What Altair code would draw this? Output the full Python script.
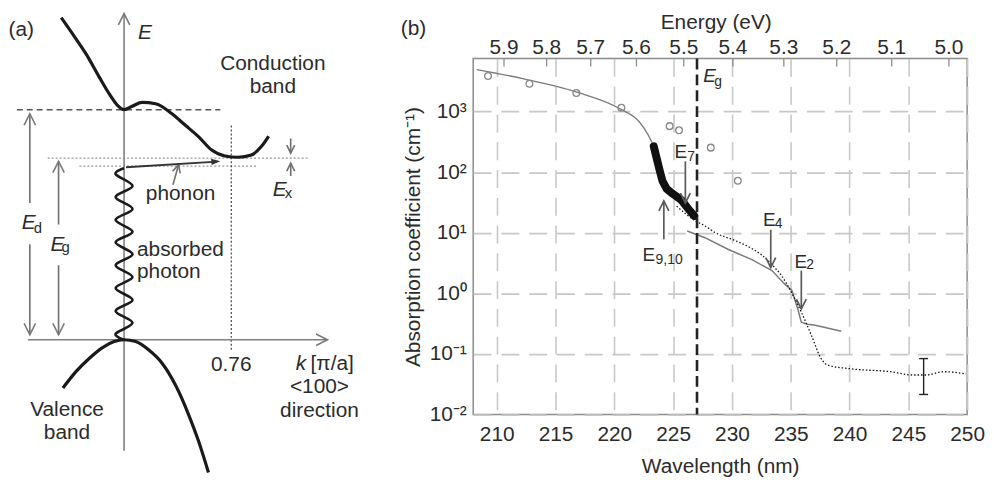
import altair as alt
import pandas as pd

FONT = "Liberation Sans"
TXT = "#2b2b2b"
CHEVRON = "M -0.5 1 L 0 0 L 0.5 1"
TRIANGLE = "M 0 0 L -0.35 1 L 0.35 1 Z"

# ======================= Panel (b) data =======================
wl_ticks = [210, 215, 220, 225, 230, 235, 240, 245, 250]
alpha_ticks = [0.01, 0.1, 1, 10, 100, 1000]
alpha_tick_labels = ["10⁻²", "10⁻¹", "10⁰", "10¹", "10²", "10³"]
energy_ticks = [5.9, 5.8, 5.7, 5.6, 5.5, 5.4, 5.3, 5.2, 5.1, 5.0]
energy_shift_nm = 0.45  # printed energy scale sits ~0.45 nm right of 1240/E

fit_wl = [208.3, 212.3, 216.8, 220.6, 222.1, 222.9, 223.35]
fit_alpha = [4930, 3475, 2100, 1080, 686, 404, 267]

circle_wl = [209.26, 212.78, 216.77, 220.6, 224.7, 225.5, 228.2, 230.5]
circle_alpha = [3850, 2880, 2020, 1160, 575, 490, 254, 72]

meas_wl = [223.35, 223.6, 223.85, 224.1, 224.45, 225.0, 225.7, 226.3, 226.8]
meas_alpha = [267, 170, 108, 71, 53, 43.5, 34.8, 24.7, 19.0]

dotted_wl = [225.3, 226.9, 227.7, 228.6, 230.3, 231.4, 232.5, 233.4, 234.2, 234.6,
             235.15, 235.9, 236.75, 237.6, 238.1, 240.1, 243.5, 245.4, 246.5, 248.0, 249.9]
dotted_alpha = [27.5, 15.7, 13.0, 10.0, 7.4, 5.9, 4.35, 2.99, 1.97, 1.51,
                0.96, 0.49, 0.205, 0.083, 0.066, 0.057, 0.051, 0.045, 0.045, 0.051, 0.047]

lower_wl = [226.2, 227.7, 229.7, 231.7, 233.4, 234.5, 235.1, 235.6, 235.9, 236.4, 237.0, 239.3]
lower_alpha = [10.7, 8.3, 5.3, 3.6, 2.38, 1.42, 1.12, 0.553, 0.335, 0.31, 0.30, 0.238]

eg_wl = [227.03]
errbar_wl = [246.3]
errbar_lo = [0.0215]
errbar_hi = [0.084]

# annotation arrows (b)
arrow_wl = [226.04, 224.21, 233.3, 235.9]
arrow_from = [151, 7.8, 11.2, 2.38]
arrow_to = [31.0, 33.5, 2.67, 0.553]
# annotation labels (b)
ann_main_wl = [225.12, 222.39, 232.65, 235.32]
ann_main_a = [170, 3.47, 13.0, 2.67]
ann_sub_text = ["7", "9,10", "4", "2"]
ann_sub_wl = [226.21, 223.51, 233.63, 236.31]
ann_sub_a = [151, 3.10, 12.1, 2.50]

# ======================= Panel (a) data =======================
cb_k = [-0.446, -0.364, -0.27, -0.176, -0.106, -0.047, 0.0, 0.058, 0.129, 0.223,
        0.340, 0.435, 0.528, 0.622, 0.716, 0.810, 0.904, 0.974, 1.026]
cb_E = [10.29, 9.76, 9.13, 8.39, 7.86, 7.49, 7.35, 7.46, 7.58, 7.54,
        7.22, 6.85, 6.49, 6.06, 5.87, 5.83, 5.90, 6.17, 6.50]

vb_k = [-0.434, -0.340, -0.246, -0.153, -0.070, 0.0, 0.082, 0.176, 0.270, 0.364, 0.458, 0.528, 0.599]
vb_E = [-1.54, -1.01, -0.59, -0.25, -0.06, 0.0, -0.06, -0.33, -0.75, -1.44, -2.39, -3.23, -4.24]

photon_k = [0, -0.06, 0.06, -0.06, 0.06, -0.06, 0.06, -0.06, 0.06, -0.06, 0.06, -0.06, 0.06, -0.06, 0.06, -0.06, 0]
photon_E = [5.48, 5.29, 4.91, 4.56, 4.18, 3.83, 3.45, 3.11, 2.73, 2.38, 2.00, 1.65, 1.27, 0.92, 0.54, 0.19, 0.0]

E_d = 7.35
E_min_cb = 5.80
E_phonon_start = 5.545
k_x = 0.761

# ======================= Panel (b) chart =======================
XS = alt.Scale(domain=[208, 250], nice=False, zero=False)
YS = alt.Scale(type="log", domain=[0.01, 7500], nice=False)

grid_kw = dict(grid=True, gridDash=[18, 10], gridColor="#c8c8c8", gridWidth=1.6)
lab_kw = dict(labelFont=FONT, labelFontSize=21, labelColor=TXT,
              titleFont=FONT, titleFontSize=21, titleFontWeight="normal", titleColor=TXT)

x_bottom = alt.Axis(orient="bottom", values=wl_ticks, ticks=False, domain=False, labelPadding=9,
                    labelFlush=False, title="Wavelength (nm)", titlePadding=11, **grid_kw, **lab_kw)
labels_js = "[" + ",".join("'%s'" % s for s in alpha_tick_labels) + "]"
y_left = alt.Axis(orient="left", values=alpha_ticks,
                  labelExpr=labels_js + "[round(log(datum.value)/LN10)+2]",
                  ticks=False, domain=False, labelPadding=7, labelOverlap=False,
                  title="Absorption coefficient (cm⁻¹)", titlePadding=6, **grid_kw, **lab_kw)
top_vals = [1240.0 / e + energy_shift_nm for e in energy_ticks]
top_labels = ["%.1f" % e for e in energy_ticks]


def xb(field="wl", axis=None):
    return alt.X(field, type="quantitative", scale=XS, axis=axis)


def yb(field="a", axis=None):
    return alt.Y(field, type="quantitative", scale=YS, axis=axis)


df_fit = pd.DataFrame({"wl": fit_wl, "a": fit_alpha})
df_circ = pd.DataFrame({"wl": circle_wl, "a": circle_alpha})
df_meas = pd.DataFrame({"wl": meas_wl, "a": meas_alpha})
df_dot = pd.DataFrame({"wl": dotted_wl, "a": dotted_alpha})
df_low = pd.DataFrame({"wl": lower_wl, "a": lower_alpha})
df_eg = pd.DataFrame({"wl": eg_wl})
df_err = pd.DataFrame({"wl": errbar_wl, "lo": errbar_lo, "hi": errbar_hi})
df_arr = pd.DataFrame({"wl": arrow_wl, "a1": arrow_from, "a2": arrow_to,
                       "ang": [180 if t < f else 0 for f, t in zip(arrow_from, arrow_to)]})
df_main = pd.DataFrame({"wl": ann_main_wl, "a": ann_main_a, "t": ["E"] * len(ann_main_wl)})
df_sub = pd.DataFrame({"wl": ann_sub_wl, "a": ann_sub_a, "t": ann_sub_text})
df_top = pd.DataFrame({"wl": top_vals, "t": top_labels})

l_fit = alt.Chart(df_fit).mark_line(color="#7a7a7a", strokeWidth=1.3, interpolate="monotone").encode(
    x=xb(axis=x_bottom), y=yb(axis=y_left))
l_circ = alt.Chart(df_circ).mark_point(shape="circle", filled=False, size=46, color="#8a8a8a",
                                       strokeWidth=1.3, opacity=1).encode(x=xb(), y=yb())
l_meas = alt.Chart(df_meas).mark_line(color="#111111", strokeWidth=8, strokeCap="round",
                                      strokeJoin="round").encode(x=xb(), y=yb())
l_dot = alt.Chart(df_dot).mark_line(color="#111111", strokeWidth=1.3, strokeDash=[1.5, 2],
                                    interpolate="monotone").encode(x=xb(), y=yb())
l_low = alt.Chart(df_low).mark_line(color="#7a7a7a", strokeWidth=1.5).encode(x=xb(), y=yb())
l_eg = alt.Chart(df_eg).mark_rule(color="#222222", strokeWidth=2.6, strokeDash=[11, 5]).encode(x=xb())
l_err = alt.Chart(df_err).mark_rule(color="#222222", strokeWidth=1.4).encode(
    x=xb(), y=yb("lo"), y2="hi")
l_err_lo = alt.Chart(df_err).mark_tick(orient="horizontal", color="#222222", size=9, thickness=1.4,
                                       opacity=1).encode(x=xb(), y=yb("lo"))
l_err_hi = alt.Chart(df_err).mark_tick(orient="horizontal", color="#222222", size=9, thickness=1.4,
                                       opacity=1).encode(x=xb(), y=yb("hi"))
l_arr = alt.Chart(df_arr).mark_rule(color="#5a5a5a", strokeWidth=1.7).encode(
    x=xb(), y=yb("a1"), y2="a2")
l_head = alt.Chart(df_arr).mark_point(shape=CHEVRON, filled=False, size=400, color="#5a5a5a",
                                      strokeWidth=1.7, opacity=1).encode(
    x=xb(), y=yb("a2"), angle=alt.Angle("ang:Q", scale=None))
l_main = alt.Chart(df_main).mark_text(font=FONT, fontSize=19, color=TXT, align="left",
                                      baseline="alphabetic").encode(x=xb(), y=yb(), text="t:N")
l_sub = alt.Chart(df_sub).mark_text(font=FONT, fontSize=14, color=TXT, align="left",
                                    baseline="alphabetic").encode(x=xb(), y=yb(), text="t:N")
l_egE = alt.Chart(pd.DataFrame({"wl": [227.56], "a": [3100], "t": ["E"]})).mark_text(
    font=FONT, fontSize=19, fontStyle="italic", color=TXT, align="left", baseline="alphabetic").encode(
    x=xb(), y=yb(), text="t:N")
l_egg = alt.Chart(pd.DataFrame({"wl": [228.49], "a": [2670], "t": ["g"]})).mark_text(
    font=FONT, fontSize=14, color=TXT, align="left", baseline="alphabetic").encode(
    x=xb(), y=yb(), text="t:N")
# top (energy) axis: inward ticks + labels + title
l_top = alt.Chart(df_top).mark_rule(color="#8c8c8c", strokeWidth=1.3).encode(
    x=xb(), y=alt.value(0), y2=alt.value(8))
l_toplab = alt.Chart(df_top).mark_text(font=FONT, fontSize=21, color=TXT, align="center",
                                       baseline="alphabetic").encode(
    x=xb(), y=alt.value(-4.5), text="t:N")
l_toptitle = alt.Chart(pd.DataFrame({"t": ["Energy (eV)"]})).mark_text(
    font=FONT, fontSize=21, color=TXT, align="center", baseline="alphabetic").encode(
    text="t:N", x=alt.value(245), y=alt.value(-30))
l_tagb = alt.Chart(pd.DataFrame({"t": ["(b)"]})).mark_text(
    font=FONT, fontSize=21, color=TXT, align="left", baseline="alphabetic").encode(
    text="t:N", x=alt.value(-73), y=alt.value(-24))

panel_b = alt.layer(
    l_fit, l_circ, l_low, l_dot, l_meas, l_eg, l_err, l_err_lo, l_err_hi,
    l_arr, l_head, l_main, l_sub, l_egE, l_egg, l_top, l_toplab, l_toptitle, l_tagb
).resolve_axis(x="independent", y="independent").properties(
    width=498, height=359, view=alt.ViewBackground(stroke="#8c8c8c", strokeWidth=1.5))

# ======================= Panel (a) chart =======================
# plot area of (a) is aligned with the plot area of (b); content extends beyond it
XA = alt.Scale(domain=[-0.824, 1.711], nice=False, zero=False)
YA = alt.Scale(domain=[-2.392, 8.983], nice=False, zero=False)


def xa(field="k"):
    return alt.X(field, type="quantitative", scale=XA, axis=None)


def ya(field="E"):
    return alt.Y(field, type="quantitative", scale=YA, axis=None)


def seg_chart(rows, **mk):
    df = pd.DataFrame(rows, columns=["k1", "E1", "k2", "E2"])
    return alt.Chart(df).mark_rule(**mk).encode(x=xa("k1"), y=ya("E1"), x2="k2", y2="E2")


def head_chart(rows, shape, size, filled, color, sw=1.6):
    df = pd.DataFrame(rows, columns=["k", "E", "ang"])
    return alt.Chart(df).mark_point(shape=shape, size=size, filled=filled, color=color,
                                    strokeWidth=sw, opacity=1).encode(
        x=xa(), y=ya(), angle=alt.Angle("ang:Q", scale=None))


def text_chart(rows, size=21, style="normal", align="left"):
    df = pd.DataFrame(rows, columns=["t", "k", "E"])
    return alt.Chart(df).mark_text(font=FONT, fontSize=size, fontStyle=style, color=TXT,
                                   align=align, baseline="alphabetic").encode(
        x=xa(), y=ya(), text="t:N")


a_axes = seg_chart([(0, -3.55, 0, 10.42), (-0.683, 0, 1.444, 0)], color="#808080", strokeWidth=1.6)
a_arrows = seg_chart([(-0.669, 7.22, -0.669, 4.37), (-0.669, 3.05, -0.669, 0.158),
                      (-0.465, 5.70, -0.465, 3.68), (-0.465, 2.38, -0.465, 0.158),
                      (1.183, 6.43, 1.183, 5.96), (1.183, 5.23, 1.183, 5.64),
                      (0.347, 4.95, 0.387, 5.59)], color="#6e6e6e", strokeWidth=1.6)
a_dash = seg_chart([(-0.761, E_d, 0.683, E_d)], color="#555555", strokeWidth=1.5, strokeDash=[6, 4])
a_dotg = seg_chart([(-0.542, E_min_cb, 1.303, E_min_cb), (-0.317, E_phonon_start, 0.937, E_phonon_start)],
                   color="#9a9a9a", strokeWidth=1.4, strokeDash=[2, 2])
a_dotv = seg_chart([(k_x, 6.84, k_x, -0.38)], color="#333333", strokeWidth=1.1, strokeDash=[2, 2])
a_trans = seg_chart([(0.014, 5.51, 0.66, 5.69)], color="#333333", strokeWidth=1.8)

a_heads_big = head_chart([(0, 10.42, 0), (1.444, 0, 90), (-0.669, 7.22, 0), (-0.669, 0.158, 180),
                          (-0.465, 5.70, 0), (-0.465, 0.158, 180)], CHEVRON, 529, False, "#7a7a7a")
a_heads_small = head_chart([(1.183, 5.96, 180), (1.183, 5.64, 0), (0.387, 5.59, 16)],
                           CHEVRON, 256, False, "#6e6e6e")
a_head_fill = head_chart([(0.683, 5.70, 86.4)], TRIANGLE, 324, True, "#333333", sw=0)

a_cb = alt.Chart(pd.DataFrame({"k": cb_k, "E": cb_E})).mark_line(
    color="#1a1a1a", strokeWidth=3.2, interpolate="monotone").encode(x=xa(), y=ya())
a_vb = alt.Chart(pd.DataFrame({"k": vb_k, "E": vb_E})).mark_line(
    color="#1a1a1a", strokeWidth=3.2, interpolate="monotone").encode(x=xa(), y=ya())
a_wave = alt.Chart(pd.DataFrame({"k": photon_k, "E": photon_E, "i": list(range(len(photon_k)))})).mark_line(
    color="#1a1a1a", strokeWidth=2.6, interpolate="cardinal").encode(x=xa(), y=ya(), order="i:Q")

a_txt_c = text_chart([("Conduction", 1.056, 8.62), ("band", 1.056, 7.89), ("phonon", 0.401, 4.47),
                      ("Valence", -0.405, -2.44), ("band", -0.405, -3.17), ("0.76", 0.761, -1.01),
                      ("<100>", 1.387, -1.71), ("direction", 1.387, -2.47)], align="center")
a_txt_l = text_chart([("(a)", -0.82, 9.70), ("absorbed", 0.092, 2.66), ("photon", 0.092, 1.96),
                      ("[π/a]", 1.324, -0.98)])
a_txt_i = text_chart([("E", 0.099, 9.60), ("E", -0.727, 3.53), ("E", -0.523, 2.85), ("E", 1.056, 4.59),
                      ("k", 1.218, -0.98)], style="italic")
a_txt_s = text_chart([("d", -0.641, 3.42), ("g", -0.444, 2.79), ("x", 1.141, 4.53)], size=15)

panel_a = alt.layer(
    a_dotg, a_dash, a_dotv, a_axes, a_arrows, a_heads_big, a_heads_small,
    a_cb, a_vb, a_wave, a_trans, a_head_fill, a_txt_c, a_txt_l, a_txt_i, a_txt_s
).properties(width=360, height=359)

chart = alt.hconcat(panel_a, panel_b, spacing=35).properties(
    padding={"left": 0, "top": 0, "right": 0, "bottom": 0}
).configure(font=FONT).configure_view(stroke=None)

chart.save("out.html", embed_options={"renderer": "svg", "actions": False})
